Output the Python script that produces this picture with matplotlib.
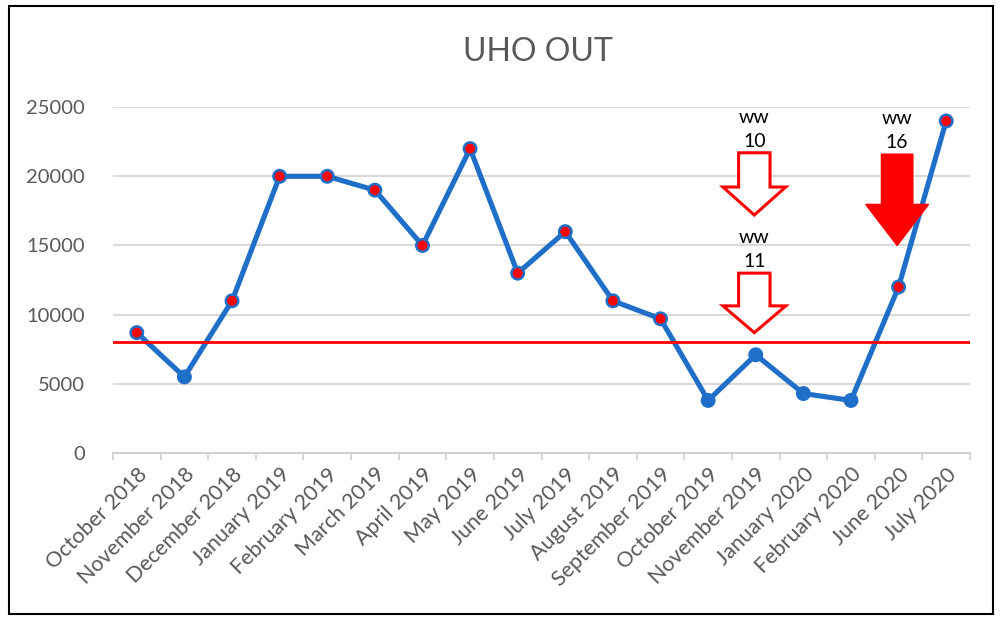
import numpy as np
import matplotlib.pyplot as plt
from matplotlib.patches import Polygon, Rectangle

# -------------
# Chart data
# -------------
months = ["October 2018", "November 2018", "December 2018", "January 2019",
          "February 2019", "March 2019", "April 2019", "May 2019", "June 2019",
          "July 2019", "August 2019", "September 2019", "October 2019",
          "November 2019", "January 2020", "February 2020", "June 2020", "July 2020"]
uho_out = [8700, 5500, 11000, 20000, 20000, 19000, 15000, 22000, 13000,
           16000, 11000, 9700, 3800, 7100, 4300, 3800, 12000, 24000]
threshold = 8000

# week markers: (month, label, top of arrow, tip of arrow, filled?)
ww_month = ["November 2019", "November 2019", "June 2020"]
ww_label = ["10", "11", "16"]
ww_top = [21700, 13000, 21600]
ww_tip = [17200, 8700, 15000]
ww_filled = [False, False, True]

# -------------
# Plot
# -------------
plt.rcParams['font.family'] = ['Lato', 'DejaVu Sans']
gray = "#595959"
blue = "#1f6fc8"

fig = plt.figure(figsize=(10, 6.21), dpi=100)
ax = fig.add_axes([0.113, 0.2705, 0.857, 0.557])

x = np.arange(len(months))
ax.plot(x, uho_out, color=blue, lw=3.7, zorder=3)
face = ["red" if v >= threshold else blue for v in uho_out]
ax.scatter(x, uho_out, s=80, c=face, edgecolors=blue, linewidths=1.8, zorder=4)
ax.axhline(threshold, color="red", lw=2, zorder=5)

# arrows + labels
for m, lab, top, tip, filled in zip(ww_month, ww_label, ww_top, ww_tip, ww_filled):
    cx = months.index(m) - 0.03
    sw, hw = 0.33, 0.66
    head = tip + (top - tip) * 0.45
    pts = [(cx - sw, top), (cx + sw, top), (cx + sw, head), (cx + hw, head),
           (cx, tip), (cx - hw, head), (cx - sw, head)]
    if filled:
        ax.add_patch(Polygon(pts, closed=True, facecolor="red", edgecolor="red", lw=1, zorder=6))
    else:
        ax.add_patch(Polygon(pts, closed=True, facecolor="white", edgecolor="red", lw=2.2, zorder=6))
    ax.text(cx, top + 2550, "ww", ha="center", va="center", fontsize=14, color="black", zorder=7)
    ax.text(cx, top + 850, lab, ha="center", va="center", fontsize=14, color="black", zorder=7)

ax.set_xlim(-0.5, len(months) - 0.5)
ax.set_ylim(0, 25000)
ax.set_yticks(np.arange(0, 25001, 5000))
ax.set_xticks(x)
ax.set_xticklabels(months, rotation=45, ha="right", rotation_mode="anchor")
ax.set_xticks(np.arange(-0.5, len(months), 1), minor=True)
ax.tick_params(axis="x", which="major", length=0, pad=8, labelsize=15.5, labelcolor=gray)
ax.tick_params(axis="x", which="minor", length=5, width=1.2, color="#d0d0d0")
ax.tick_params(axis="y", length=0, pad=20, labelsize=14.5, labelcolor=gray)
ax.grid(axis="y", color="#d9d9d9", lw=1.5)
ax.set_axisbelow(True)
for s in ["top", "right", "left"]:
    ax.spines[s].set_visible(False)
ax.spines["bottom"].set_color("#d0d0d0")
ax.spines["bottom"].set_linewidth(1.5)

fig.text(0.538, 0.916, "UHO OUT", ha="center", va="center", fontsize=23, color=gray)
fig.patches.append(Rectangle((0.009, 0.011), 0.984, 0.98, transform=fig.transFigure,
                             fill=False, edgecolor="black", lw=1.5))

fig.savefig("out.png", dpi=100)
